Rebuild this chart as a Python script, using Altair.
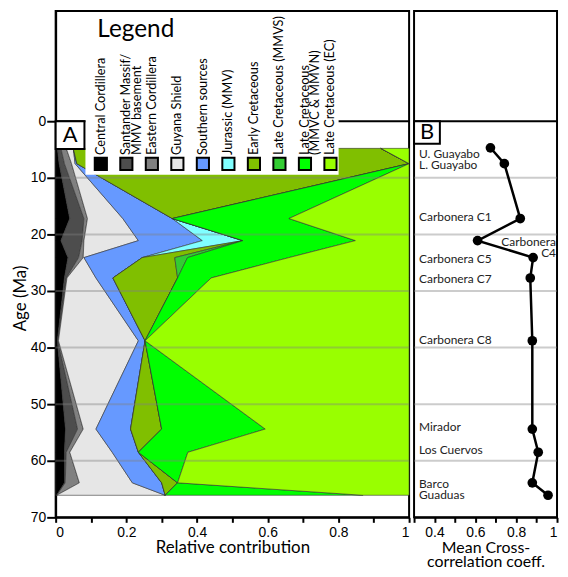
import altair as alt
import pandas as pd

# ---------------- data ----------------
ages = [4.8, 7.5, 17.2, 21.1, 24.1, 27.7, 38.8, 54.4, 58.5, 63.9, 66.1]

central = [0.005, 0.01, 0.04, 0.015, 0.035, 0.025, 0.005, 0.028, 0.025, 0.025, 0.003]
santander = [0.01, 0.015, 0.04, 0.06, 0.03, 0.005, 0.001, 0.034, 0.005, 0.002, 0.0]
eastern = [0.015, 0.02, 0.01, 0.005, 0.013, 0.002, 0.002, 0.016, 0.01, 0.04, 0.0]
guyana = [0.02, 0.01, 0.10, 0.154, 0.002, 0.082, 0.226, 0.036, 0.12, 0.15, 0.307]
southern = [0.0, 0.005, 0.14, 0.181, 0.165, 0.048, 0.019, 0.098, 0.074, 0.083, 0.0]
jurassic = [0.0, 0.0, 0.0, 0.115, 0.0, 0.0, 0.0, 0.0, 0.0, 0.0, 0.0]
early_cret = [0.87, 0.94, 0.0, 0.0, 0.092, 0.183, 0.0, 0.088, 0.0, 0.045, 0.0]
late_mmvs = [0.0, 0.0, 0.0, 0.0, 0.036, 0.0, 0.0, 0.0, 0.0, 0.0, 0.0]
late_mmvc = [0.0, 0.0, 0.33, 0.318, 0.287, 0.095, 0.0, 0.293, 0.14, 0.0, 0.56]
late_ec = [0.08, 0.0, 0.34, 0.152, 0.34, 0.56, 0.747, 0.407, 0.626, 0.655, 0.13]

sources = [
    "Central Cordillera",
    "Santander Massif/\nMMV basement",
    "Eastern Cordillera",
    "Guyana Shield",
    "Southern sources",
    "Jurassic (MMV)",
    "Early Cretaceous",
    "Late Cretaceous (MMVS)",
    "Late Cretaceous\n(MMVC & MMVN)",
    "Late Cretaceous (EC)",
]
colors = ["#000000", "#4d4d4d", "#808080", "#e6e6e6", "#6699ff",
          "#80ffff", "#80bf00", "#33cc33", "#00ff00", "#99ff00"]
series = [central, santander, eastern, guyana, southern, jurassic,
          early_cret, late_mmvs, late_mmvc, late_ec]

b_ages = [4.7, 7.5, 17.2, 21.1, 24.1, 27.7, 38.8, 54.4, 58.5, 63.9, 66.1]
b_corr = [0.674, 0.742, 0.820, 0.611, 0.883, 0.869, 0.879, 0.879, 0.908, 0.879, 0.956]

b_labels = ["U. Guayabo", "L. Guayabo", "Carbonera C1", "Carbonera C5",
            "Carbonera C7", "Carbonera C8", "Mirador", "Los Cuervos",
            "Barco", "Guaduas"]
b_label_ages = [5.8, 7.8, 16.9, 24.4, 27.9, 38.6, 54.1, 58.1, 64.1, 66.0]
c4_label = "Carbonera\nC4"
c4_age = 21.4

grid_ages = [10, 20, 30, 40, 50, 60]

# ---------------- layout ----------------
WA, WB, H = 356, 144, 510
FONT = "Lato"
NUMFONT = "Liberation Sans"

rows = []
for i, (name, vals) in enumerate(zip(sources, series)):
    for a, v in zip(ages, vals):
        rows.append({"source": name, "ord": i, "age": a, "value": v})
df = pd.DataFrame(rows)

yscale = alt.Scale(domain=[-19.47, 70], reverse=True, nice=False, zero=False)
yaxis = alt.Axis(values=[0, 10, 20, 30, 40, 50, 60, 70], title="Age (Ma)",
                 tickSize=9, tickWidth=2, labelPadding=1, titlePadding=1,
                 titleY=289, grid=False)
xscaleA = alt.Scale(domain=[0, 1], nice=False, zero=False)
xaxisA = alt.Axis(values=[0, 0.1, 0.2, 0.3, 0.4, 0.5, 0.6, 0.7, 0.8, 0.9, 1],
                  format=".1~f",
                  labelExpr="indexof([0,0.2,0.4,0.6,0.8,1], datum.value) >= 0 ? datum.label : ''",
                  title="Relative contribution", tickSize=5, tickWidth=2,
                  labelPadding=3, titlePadding=0, grid=False)
cscale = alt.Scale(domain=sources, range=colors)


def YA(field):
    return alt.Y(field, type="quantitative", scale=yscale, axis=yaxis)


def XA(field, **kw):
    return alt.X(field, type="quantitative", scale=xscaleA, axis=xaxisA, **kw)


area = alt.Chart(df).mark_area(orient="horizontal", stroke="#333333",
                               strokeWidth=0.6).encode(
    x=XA("value", stack="zero"),
    y=YA("age"),
    color=alt.Color("source:N", scale=cscale, legend=None),
    order=alt.Order("ord:Q", sort="ascending"),
)

grid_df = pd.DataFrame({"age": grid_ages})
gridA = alt.Chart(grid_df).mark_rule(color="#808080", opacity=0.4,
                                     strokeWidth=2).encode(y=YA("age"))
zero_df = pd.DataFrame({"age": [0]})
zeroA = alt.Chart(zero_df).mark_rule(color="black", strokeWidth=2).encode(y=YA("age"))

box_df = pd.DataFrame({"age": [0], "age2": [4.9], "mid": [2.45], "t": ["A"]})
# legend
one = pd.DataFrame({"t": ["Legend"]})
leg_box = alt.Chart(one).mark_rect(fill="white", stroke=None).encode(
    x=alt.value(30), x2=alt.value(285), y=alt.value(1.5), y2=alt.value(165))
leg_title = alt.Chart(one).mark_text(font=FONT, fontSize=24.5, align="left",
                                     baseline="alphabetic", color="black").encode(
    x=alt.value(42), y=alt.value(26), text="t:N")

leg_df = pd.DataFrame({"source": sources,
                       "tx": [(45.5 + 25.7 * i) / WA for i in range(len(sources))]})
leg_sq = alt.Chart(leg_df).mark_square(size=150, stroke="black", strokeWidth=2,
                                       opacity=1, filled=True).encode(
    x=XA("tx"), y=alt.value(154),
    color=alt.Color("source:N", scale=cscale, legend=None))
leg_txt = alt.Chart(leg_df).mark_text(angle=270, align="left", baseline="middle",
                                      font=FONT, fontSize=12.8, lineBreak="\n",
                                      lineHeight=10.5, color="black").encode(
    x=XA("tx"), y=alt.value(145), text="source:N")

boxA = alt.Chart(box_df).mark_rect(fill="white", stroke="black", strokeWidth=2).encode(
    x=alt.value(0), x2=alt.value(29), y=YA("age"), y2="age2:Q")
boxA_t = alt.Chart(box_df).mark_text(font=FONT, fontSize=22, baseline="middle",
                                     align="center", color="black").encode(
    x=alt.value(14.5), y=YA("mid"), text="t:N")

panelA = alt.layer(area, gridA, zeroA, leg_box, leg_title, leg_sq, leg_txt,
                   boxA, boxA_t).properties(width=WA, height=H)

# ---------------- panel B ----------------
xscaleB = alt.Scale(domain=[0.3, 1], nice=False, zero=False)
xaxisB = alt.Axis(values=[0.3, 0.4, 0.5, 0.6, 0.7, 0.8, 0.9, 1],
                  format=".1~f",
                  labelExpr="indexof([0.4,0.6,0.8,1], datum.value) >= 0 ? datum.label : ''",
                  title=["Mean Cross-", "correlation coeff."], titleLineHeight=14,
                  titleFontSize=16, tickSize=5, tickWidth=2, labelPadding=3,
                  titlePadding=0, labelFlush=True, grid=False)


def YB(field):
    return alt.Y(field, type="quantitative", scale=yscale, axis=None)


def XB(field):
    return alt.X(field, type="quantitative", scale=xscaleB, axis=xaxisB)


bdf = pd.DataFrame({"age": b_ages, "corr": b_corr})
gridB = alt.Chart(grid_df).mark_rule(color="#808080", opacity=0.4,
                                     strokeWidth=2).encode(y=YB("age"))
zeroB = alt.Chart(zero_df).mark_rule(color="black", strokeWidth=2).encode(y=YB("age"))
lineB = alt.Chart(bdf).mark_line(color="black", strokeWidth=2.5).encode(
    x=XB("corr"), y=YB("age"), order=alt.Order("age:Q"))
ptsB = alt.Chart(bdf).mark_circle(size=95, color="black", opacity=1).encode(
    x=XB("corr"), y=YB("age"))
lab_df = pd.DataFrame({"name": b_labels, "age": b_label_ages})
labB = alt.Chart(lab_df).mark_text(font=FONT, fontSize=12, align="left",
                                   baseline="middle", color="#222222").encode(
    x=alt.value(5), y=YB("age"), text="name:N")
c4_df = pd.DataFrame({"name": [c4_label], "age": [c4_age]})
labC4 = alt.Chart(c4_df).mark_text(font=FONT, fontSize=12, align="right",
                                   baseline="middle", lineBreak="\n", lineHeight=11,
                                   color="#222222").encode(
    x=alt.value(WB - 1), y=YB("age"), text="name:N")
boxB_df = pd.DataFrame({"age": [0], "age2": [4.0], "mid": [2.0], "t": ["B"]})
boxB = alt.Chart(boxB_df).mark_rect(fill="white", stroke="black", strokeWidth=2).encode(
    x=alt.value(0), x2=alt.value(26), y=YB("age"), y2="age2:Q")
boxB_t = alt.Chart(boxB_df).mark_text(font=FONT, fontSize=22, baseline="middle",
                                      align="center", color="black").encode(
    x=alt.value(13), y=YB("mid"), text="t:N")

panelB = alt.layer(gridB, zeroB, lineB, ptsB, labB, labC4, boxB, boxB_t).properties(
    width=WB, height=H)

chart = alt.hconcat(panelA, panelB, spacing=0).properties(
    padding={"left": 2, "top": 0, "right": 1, "bottom": 0},
    background="white",
).configure_view(stroke="black", strokeWidth=2).configure_axis(
    domainColor="black", domainWidth=2, tickColor="black", labelColor="black",
    labelFont=NUMFONT, labelFontSize=14, titleFont=FONT, titleFontSize=17,
    titleColor="black", titleFontWeight="normal",
)

chart.save("out.html", embed_options={"renderer": "svg", "actions": False})
